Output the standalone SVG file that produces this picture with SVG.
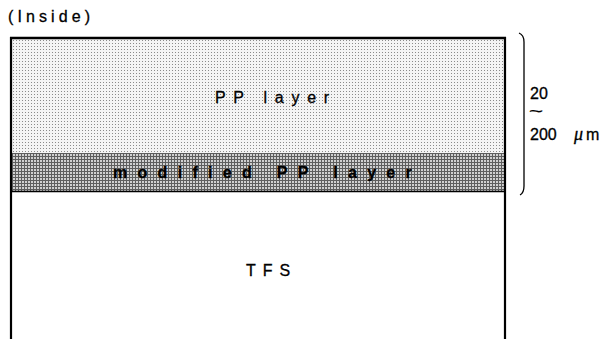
<svg xmlns="http://www.w3.org/2000/svg" width="609" height="339" viewBox="0 0 609 339">
<defs>
<pattern id="light" width="3" height="3" patternUnits="userSpaceOnUse">
<rect width="3" height="3" fill="#f4f4f4"/>
<rect x="1" y="1" width="1" height="1" fill="#8a8a8a"/>
</pattern>
<pattern id="dense" width="3" height="3" patternUnits="userSpaceOnUse">
<rect width="3" height="3" fill="#d0d0d0"/>
<rect x="0" y="0" width="3" height="1" fill="#5e5e5e"/>
<rect x="0" y="0" width="1" height="3" fill="#5e5e5e"/>
</pattern>
</defs>
<style>
.t{font-family:"Liberation Sans",Arial,sans-serif;fill:#000;font-size:16px;stroke:#000;stroke-width:0.3px}
.edge{stroke:#000;fill:none}
</style>
<text class="t" x="8" y="22" style="letter-spacing:4.1px">(Inside)</text>
<g id="pp-layer">
<rect x="11" y="38" width="494" height="115" fill="url(#light)"/>
<text class="t" x="215" y="103" style="letter-spacing:7.7px">PP layer</text>
</g>
<g id="modified-pp-layer">
<rect x="11" y="153" width="494" height="38" fill="url(#dense)"/>
<text class="t" x="113" y="178" font-weight="bold" style="letter-spacing:10.3px">modified PP layer</text>
</g>
<g id="tfs">
<text class="t" x="246" y="276" style="letter-spacing:7px">TFS</text>
</g>
<g id="outline">
<line class="edge" x1="10" y1="38" x2="506" y2="38" stroke-width="2.5"/>
<line class="edge" x1="11" y1="37" x2="11" y2="339" stroke-width="2.2"/>
<line class="edge" x1="505" y1="37" x2="505" y2="339" stroke-width="2.2"/>
<line class="edge" x1="11" y1="191.5" x2="505" y2="191.5" stroke-width="1.5"/>
</g>
<g id="connectors">
<path class="edge" d="M519 33 Q524 35 524 42 L524 186 Q524 193 520 195" stroke-width="1.3"/>
</g>
<g id="thickness-label">
<text class="t" x="530" y="99" font-size="17">20</text>
<text class="t" transform="translate(529 117) scale(1.5 1)" x="0" y="0" font-size="18">~</text>
<text class="t" x="530" y="140" font-size="17">200</text>
<text class="t" x="574" y="140" font-size="17"><tspan font-family="'Liberation Serif',serif" font-style="italic" font-size="18">μ</tspan><tspan dx="3">m</tspan></text>
</g>
</svg>
